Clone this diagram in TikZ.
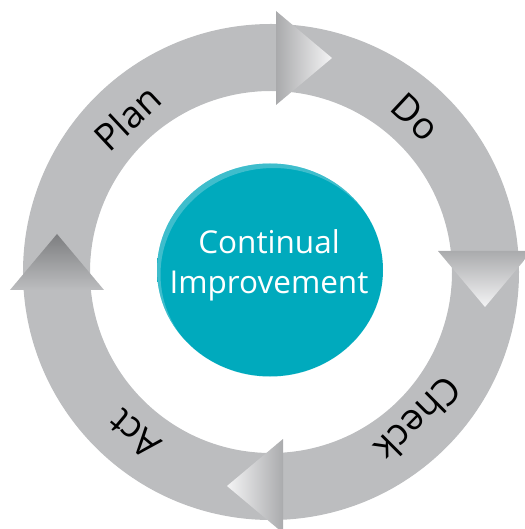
\documentclass[tikz,border=0pt]{standalone}
\usepackage{fontspec}
\setmainfont{Open Sans}
\usepackage{tikz}
\usetikzlibrary{calc}
\usetikzlibrary{positioning}

\definecolor{ringgray}{RGB}{188,189,191}
\definecolor{tipgray}{RGB}{244,244,245}
\definecolor{basegray}{RGB}{170,171,173}
\definecolor{darkgray}{RGB}{125,126,128}
\definecolor{tealmain}{RGB}{0,170,189}
\definecolor{tealdark}{RGB}{0,78,90}
\definecolor{teallight}{RGB}{140,214,224}

\pgfdeclareradialshading{cibutton}{\pgfpoint{-20bp}{20bp}}{color(0bp)=(tealmain); color(41bp)=(tealmain); color(50bp)=(tealdark)}

\tikzset{
  stage/.style={font=\fontsize{37}{42}\selectfont, text=black, inner sep=0pt},
  centre/.style={font=\fontsize{31.5}{40}\selectfont, text=white, align=center, inner sep=0pt},
}

\begin{document}
\begin{tikzpicture}[x=1pt, y=1pt, line join=round]
  \useasboundingbox (-271,-257) rectangle (253,272);
  %--- Ring
    \fill[ringgray, even odd rule] (0,0) circle (248) (0,0) circle (181);
  %--- Head Plan -> Do
    \shade[left color=ringgray!90!black, right color=tipgray] (5,261) -- ++(0,-94) -- (61,214) -- cycle;
  %--- Head Do -> Check
    \shade[top color=basegray, bottom color=tipgray] (167,21) -- ++(94,0) -- (214,-35) -- cycle;
  %--- Head Check -> Act
    \shade[right color=basegray, left color=tipgray] (12,-167) -- ++(0,-94) -- (-44,-214) -- cycle;
  %--- Head Act -> Plan
    \shade[bottom color=ringgray, top color=darkgray] (-261,-18) -- ++(94,0) -- (-214,38) -- cycle;
  %--- Button
    \shade[shading=cibutton] (-1,2) ellipse [x radius=113, y radius=106.5];
    \begin{scope}
      \clip (-1,2) ellipse [x radius=113, y radius=106.5];
      \fill[teallight, opacity=.45, even odd rule] (-1,2) ellipse [x radius=113, y radius=106.5]
        (2.5,-2.5) ellipse [x radius=113, y radius=106.5];
    \end{scope}
    \node[centre] (ci) at (-2,7) {Continual\\Improvement};
  %--- Stages
    \node[stage, rotate=43] (plan) at (133:211pt) {Plan};
    \node[stage, rotate=-43] (do) at (47:212pt) {Do};
    \node[stage, rotate=-135] (check) at (-45:209pt) {Check};
    \node[stage, rotate=140] (act) at (-130:212pt) {Act};
\end{tikzpicture}
\end{document}
